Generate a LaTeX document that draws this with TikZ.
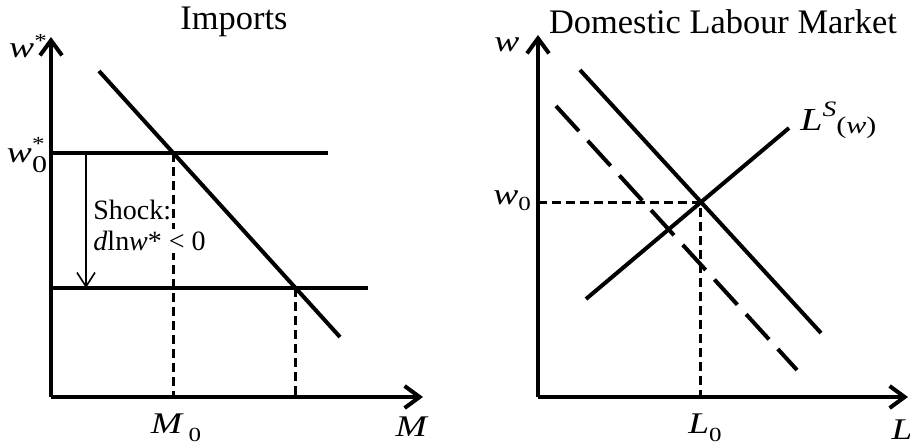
\documentclass[tikz,border=0pt]{standalone}
\usepackage{fontspec}
\setmainfont{Liberation Serif}
\newfontfamily\widefont[FakeStretch=1.25]{Liberation Serif}
\usetikzlibrary{arrows.meta,positioning}
\newcommand{\ttlsize}{\fontsize{17.2}{19}\selectfont}
\newcommand{\lblsize}{\widefont\fontsize{15}{16}\selectfont}
\newcommand{\shksize}{\fontsize{14}{15}\selectfont}
\newcommand{\idxsize}{\fontsize{10}{11}\selectfont}

\begin{document}
\begin{tikzpicture}[
    x=0.5pt, y=-0.5pt,
    axis/.style={line width=2pt, -{Straight Barb[length=7.5pt, width=11pt, line width=2pt]}},
    curve/.style={line width=2pt},
    guide/.style={line width=1.5pt, dash pattern=on 4.5pt off 2.5pt},
    shifted/.style={line width=2pt, dash pattern=on 17pt off 6.5pt},
    shockarr/.style={line width=0.8pt, -{Straight Barb[length=7pt, width=9pt]}},
    ttl/.style={font=\ttlsize, inner sep=0pt},
    lbl/.style={font=\lblsize, inner sep=0pt}
  ]
  \useasboundingbox (0,0) rectangle (910,446);

  % imports panel
  \coordinate (oM) at (51,397);
  \coordinate (wTop) at (51,37);
  \coordinate (mEnd) at (423,397);
  \coordinate (hiA) at (51,153);
  \coordinate (hiB) at (328,153);
  \coordinate (loA) at (51,288);
  \coordinate (loB) at (368,288);
  \coordinate (dmA) at (99,71);
  \coordinate (dmB) at (340,337);
  \coordinate (eqHi) at (173,153);
  \coordinate (eqLo) at (295,288);
  \coordinate (eqHiX) at (173,397);
  \coordinate (eqLoX) at (295,397);
  \coordinate (shkA) at (86,153);
  \coordinate (shkB) at (86,288);

  \draw[guide] (eqHi) -- (eqHiX);
  \draw[guide] (eqLo) -- (eqLoX);
  \draw[curve] (hiA) -- (hiB);
  \draw[curve] (loA) -- (loB);
  \draw[curve] (dmA) -- (dmB);
  \draw[shockarr] (shkA) -- (shkB);
  \draw[axis] (oM) -- (wTop);
  \draw[axis] (oM) -- (mEnd);

  \node[ttl] (impT) at (234,22) {Imports};
  \node[lbl] (wStar) at (28,46) {\textit{w}\raisebox{5pt}{\idxsize *}};
  \node[lbl] (wStarO) at (27,155) {\textit{w}\rlap{\raisebox{6pt}{\idxsize *}}\raisebox{-5pt}{\fontsize{12}{13}\selectfont 0}};
  \node[font=\shksize, inner sep=0pt, anchor=west] (shk) at (93,210) {Shock:};
  \node[font=\shksize, inner sep=1pt, fill=white, anchor=west] (shkEq)
    at (91,241) {\textit{d}ln\textit{w}* < 0};
  \node[lbl] (mO) at (176,428) {\textit{M}\,\raisebox{-4pt}{\idxsize 0}};
  \node[lbl] (mLbl) at (412,427) {\textit{M}};

  % labour market panel
  \coordinate (oL) at (538,397);
  \coordinate (wTopR) at (538,35);
  \coordinate (lEnd) at (908,397);
  \coordinate (ldA) at (580,70);
  \coordinate (ldB) at (821,333);
  \coordinate (lsA) at (586,299);
  \coordinate (lsB) at (789,128);
  \coordinate (newA) at (556,106);
  \coordinate (newB) at (797,370);
  \coordinate (eqL) at (700,202);
  \coordinate (eqLY) at (538,202);
  \coordinate (eqLX) at (700,397);

  \draw[guide] (eqLY) -- (eqL) -- (eqLX);
  \draw[curve] (ldA) -- (ldB);
  \draw[curve] (lsA) -- (lsB);
  \draw[shifted] (newA) -- (newB);
  \draw[axis] (oL) -- (wTopR);
  \draw[axis] (oL) -- (lEnd);

  \node[ttl] (labT) at (723,22) {Domestic Labour Market};
  \node[lbl] (wLbl) at (507,45) {\textit{w}};
  \node[lbl] (wO) at (512,201) {\textit{w}\raisebox{-3pt}{\idxsize 0}};
  \node[lbl] (lO) at (705,428) {\textit{L}\raisebox{-4pt}{\idxsize 0}};
  \node[lbl] (lLbl) at (902,430) {\textit{L}};
  \node[font=\lblsize, inner sep=0pt, anchor=base west] (lsLbl) at (800,130)
    {\fontsize{16}{17}\selectfont\textit{L}\raisebox{7pt}{\fontsize{11}{12}\selectfont\textit{S}}\raisebox{-1.5pt}{\fontsize{12}{13}\selectfont(\textit{w})}};
\end{tikzpicture}
\end{document}
